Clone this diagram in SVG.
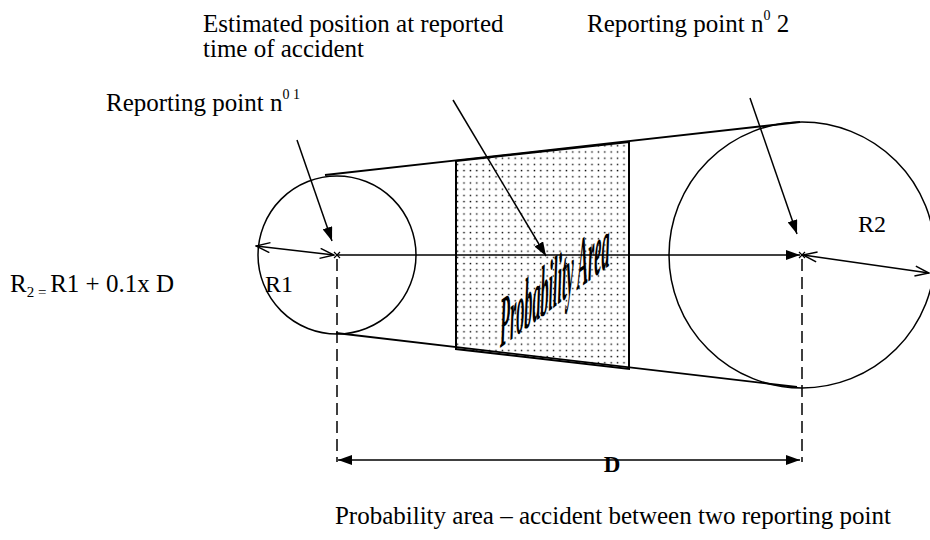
<svg xmlns="http://www.w3.org/2000/svg" width="930" height="540" viewBox="0 0 930 540">
<style>
text{font-family:"Liberation Serif","Times New Roman",serif;fill:#000}
.lbl{font-size:25px}
.ln{stroke:#000;stroke-width:1.5;fill:none}
.thick{stroke:#000;stroke-width:1.8;fill:none}
.dash{stroke:#000;stroke-width:1.5;stroke-dasharray:12 6;fill:none}
</style>
<defs>
<pattern id="dots" width="6.4" height="6.2" patternUnits="userSpaceOnUse">
<rect x="2.5" y="2.5" width="1.4" height="1.4" fill="#000"/>
</pattern>
<marker id="fa" viewBox="0 0 14 10" markerWidth="14" markerHeight="10" refX="14" refY="5" orient="auto-start-reverse" markerUnits="userSpaceOnUse">
<path d="M0,0 L14,5 L0,10 z" fill="#000"/>
</marker>
<marker id="oa" viewBox="-1 -1 16 12" markerWidth="16" markerHeight="12" refX="14" refY="5" orient="auto-start-reverse" markerUnits="userSpaceOnUse">
<path d="M0,0 L14,5 L0,10" fill="none" stroke="#000" stroke-width="1.5"/>
</marker>
</defs>
<rect width="930" height="540" fill="#fff"/>

<g id="probability-area">
<polygon points="456,161 629,142 629,369 456,349" fill="url(#dots)" stroke="#000" stroke-width="2"/>
<text transform="translate(500,348) skewY(-37) scale(0.225,1)" font-size="72" font-style="italic" font-weight="bold">Probability Area</text>
</g>

<g id="circle-1">
<circle cx="337" cy="255" r="79" class="ln"/>
<path d="M334,252 L340,258 M340,252 L334,258" stroke="#000" stroke-width="1.2"/>
</g>

<g id="circle-2">
<circle cx="802" cy="255" r="133" class="ln"/>
<path d="M799,252 L805,258 M805,252 L799,258" stroke="#000" stroke-width="1.2"/>
</g>

<g id="connectors">
<line x1="325" y1="175" x2="800" y2="122" class="thick"/>
<line x1="336" y1="333" x2="797" y2="387" class="thick"/>
<line x1="337" y1="255" x2="800" y2="255" class="ln" marker-end="url(#fa)"/>
<line x1="256" y1="246" x2="334" y2="255" class="ln" marker-start="url(#oa)" marker-end="url(#oa)"/>
<line x1="803" y1="255" x2="929" y2="273" class="ln" marker-start="url(#oa)" marker-end="url(#oa)"/>
<line x1="297" y1="140" x2="332" y2="241" class="ln" marker-end="url(#fa)"/>
<line x1="453" y1="100" x2="546" y2="256" class="ln" marker-end="url(#fa)"/>
<line x1="750" y1="98" x2="797" y2="234" class="ln" marker-end="url(#fa)"/>
<line x1="337" y1="259" x2="337" y2="462" class="dash"/>
<line x1="802" y1="259" x2="802" y2="462" class="dash"/>
<line x1="338" y1="460" x2="800" y2="460" class="ln" stroke-width="2" marker-start="url(#fa)" marker-end="url(#fa)"/>
</g>

<g id="labels">
<text class="lbl" x="203" y="32">Estimated position at reported</text>
<text class="lbl" x="203" y="57">time of accident</text>
<text class="lbl" x="587" y="32">Reporting point n<tspan font-size="14" dy="-12">0</tspan><tspan dy="12"> 2</tspan></text>
<text class="lbl" x="106" y="111">Reporting point n<tspan font-size="14" dy="-12">0 1</tspan></text>
<text class="lbl" x="10" y="292">R<tspan font-size="15" dy="5">2 = </tspan><tspan dy="-5">R1 + 0.1x D</tspan></text>
<text x="265" y="292" font-size="24">R1</text>
<text x="858" y="232" font-size="24">R2</text>
<text x="612" y="472" text-anchor="middle" font-weight="bold" font-size="23">D</text>
<text class="lbl" x="891" y="524" text-anchor="end">Probability area – accident between two reporting point</text>
</g>
</svg>
